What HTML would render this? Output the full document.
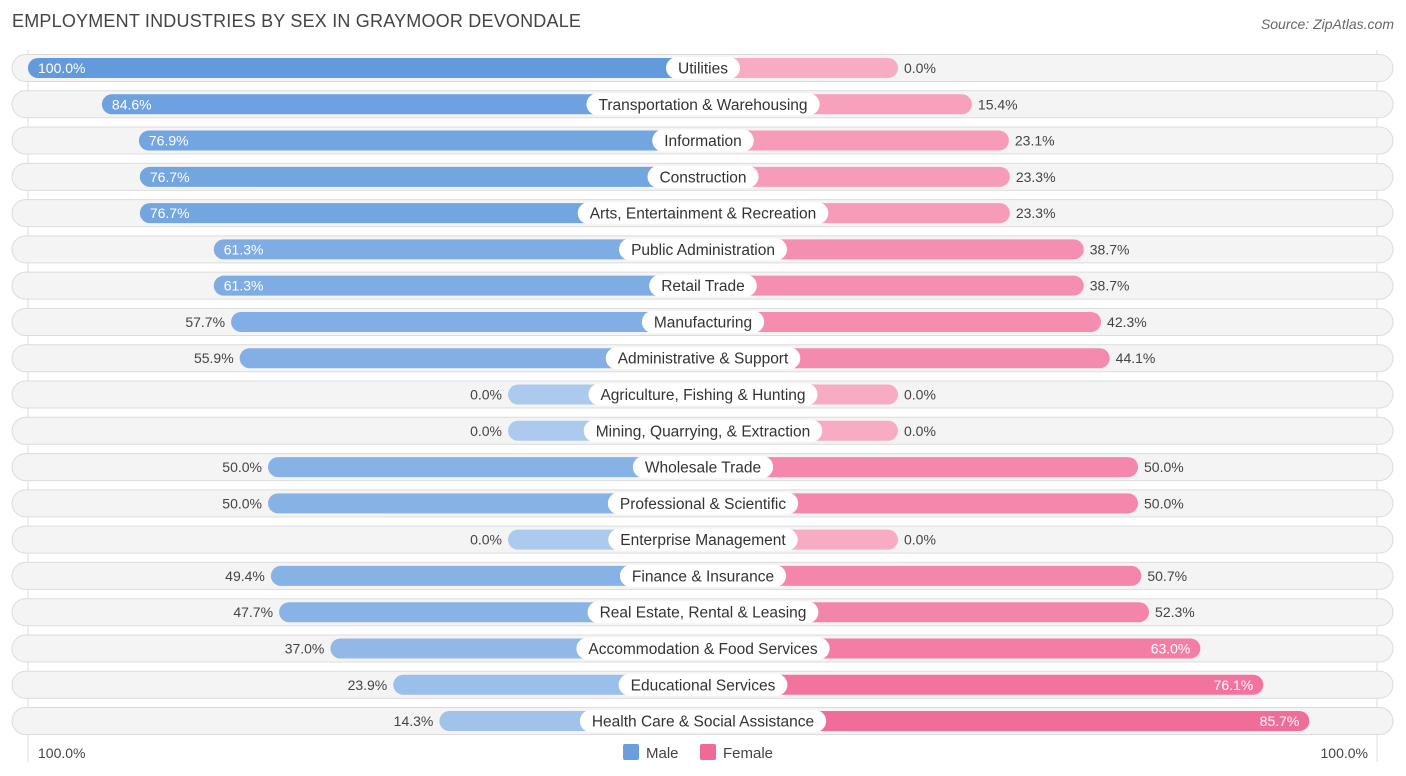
<!DOCTYPE html>
<html><head><meta charset="utf-8">
<style>
body{margin:0;background:#fff;font-family:"Liberation Sans",sans-serif;}
#wrap{position:relative;width:1406px;height:776px;overflow:hidden;}
.title{position:absolute;left:12px;top:11px;font-size:18px;color:#444;letter-spacing:0.2px}
.src{position:absolute;right:12px;top:16px;font-size:14px;color:#666;font-style:italic}
</style></head><body>
<div id="wrap">
<div class="title">EMPLOYMENT INDUSTRIES BY SEX IN GRAYMOOR DEVONDALE</div>
<div class="src">Source: ZipAtlas.com</div>
<svg id="svg" width="1406" height="776" style="position:absolute;left:0;top:0"></svg>
</div>
<script>
const categories=["Utilities","Transportation & Warehousing","Information","Construction","Arts, Entertainment & Recreation","Public Administration","Retail Trade","Manufacturing","Administrative & Support","Agriculture, Fishing & Hunting","Mining, Quarrying, & Extraction","Wholesale Trade","Professional & Scientific","Enterprise Management","Finance & Insurance","Real Estate, Rental & Leasing","Accommodation & Food Services","Educational Services","Health Care & Social Assistance"];
const maleValues=[100.0,84.6,76.9,76.7,76.7,61.3,61.3,57.7,55.9,0.0,0.0,50.0,50.0,0.0,49.4,47.7,37.0,23.9,14.3];
const femaleValues=[0.0,15.4,23.1,23.3,23.3,38.7,38.7,42.3,44.1,0.0,0.0,50.0,50.0,0.0,50.7,52.3,63.0,76.1,85.7];
const axisLabels=["100.0%","100.0%"];

const NS="http://www.w3.org/2000/svg";
const svg=document.getElementById('svg');
const CX=703, OFF=195, SCALE=4.8, Y0=68, STEP=36.28, BH=20;
function xMale(v){return CX-OFF-v*SCALE;}
function xFemale(v){return CX+OFF+v*SCALE;}
function rowY(i){return Y0+i*STEP;}
function mix(a,b,t){return 'rgb('+a.map((c,k)=>Math.round(c+(b[k]-c)*t)).join(',')+')';}
function maleColor(v){return mix([172,202,238],[98,154,220],v/100);}
function femaleColor(v){return mix([248,172,196],[240,98,146],v/100);}
function el(tag,attrs,parent){const e=document.createElementNS(NS,tag);for(const k in attrs)e.setAttribute(k,attrs[k]);(parent||svg).appendChild(e);return e;}

// axis lines
const al=el('line',{x1:28,x2:28,y1:50,y2:762,stroke:'#ddd','stroke-width':1});


const ar=el('line',{x1:1377,x2:1377,y1:50,y2:762,stroke:'#ddd','stroke-width':1});



categories.forEach((cat,i)=>{
  const y=rowY(i);
  const g=el('g',{});
  
  
  const bg=el('rect',{x:12,y:y-13.5,width:1381,height:27,rx:13.5,fill:'#f4f4f4',stroke:'#dcdcdc','stroke-width':1},g);
  
  
  const mv=maleValues[i], fv=femaleValues[i];
  const mx=xMale(mv);
  const mb=el('rect',{x:mx,y:y-BH/2,width:CX-mx,height:BH,rx:10,fill:maleColor(mv)},g);
  
  
  const fx=xFemale(fv);
  const fb=el('rect',{x:CX,y:y-BH/2,width:fx-CX,height:BH,rx:10,fill:femaleColor(fv)},g);
  
  
  // male label
  const mInside=mv>60;
  const mt=el('text',{x:mInside?mx+10:mx-6,y:y+5,'font-size':14,fill:mInside?'#fff':'#444','text-anchor':mInside?'start':'end'},g);
  mt.textContent=mv.toFixed(1)+'%';
  
  
  const fInside=fv>60;
  const ft=el('text',{x:fInside?fx-10:fx+6,y:y+5,'font-size':14,fill:fInside?'#fff':'#444','text-anchor':fInside?'end':'start'},g);
  ft.textContent=fv.toFixed(1)+'%';
  
  
  // category pill
  const ct=el('text',{x:CX,y:y+5.5,'font-size':15.5,fill:'#333','text-anchor':'middle'},g);
  ct.textContent=cat;
  const w=ct.getComputedTextLength()+24;
  const pill=el('rect',{x:CX-w/2,y:y-11,width:w,height:22,rx:11,fill:'#fff'},g);
  g.insertBefore(pill,ct);
  
  
  
  
});

const lt=el('text',{x:38,y:758,'font-size':14,fill:'#444'});
lt.textContent=axisLabels[0];


const rt=el('text',{x:1368,y:758,'font-size':14,fill:'#444','text-anchor':'end'});
rt.textContent=axisLabels[1];



const lm=el('rect',{x:623,y:744,width:16,height:16,rx:2,fill:'#6a9fdc'});


const lmt=el('text',{x:646,y:758,'font-size':15,fill:'#444'});
lmt.textContent='Male';


const lf=el('rect',{x:700,y:744,width:16,height:16,rx:2,fill:'#f06a98'});


const lft=el('text',{x:723,y:758,'font-size':15,fill:'#444'});
lft.textContent='Female';


</script>
</body></html>
